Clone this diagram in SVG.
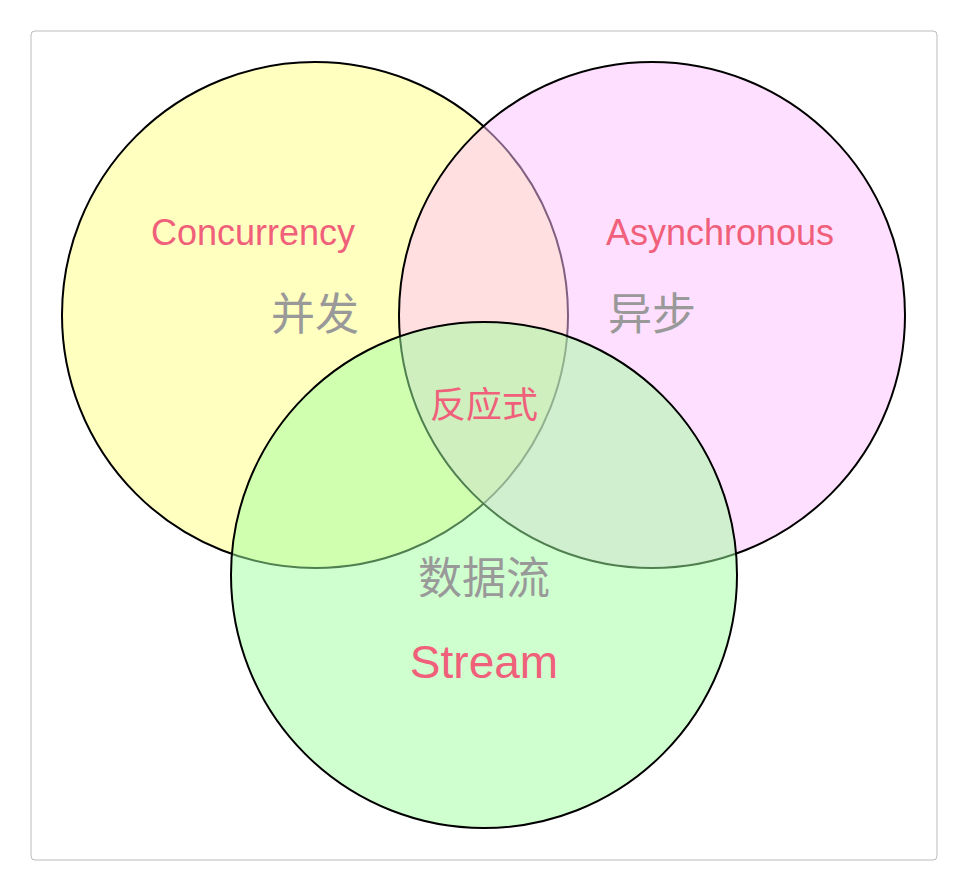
<svg xmlns="http://www.w3.org/2000/svg" width="968" height="891" viewBox="0 0 968 891">
<style>
.c{stroke:#000;stroke-width:2;fill-opacity:0.5}
.en{font-family:"Liberation Sans","Noto Sans CJK SC",sans-serif;fill:#f0607a;text-anchor:middle}
.zh{font-family:"Noto Sans CJK SC",sans-serif;fill:#999;text-anchor:middle;font-size:44px}
</style>
<rect x="31" y="31" width="906" height="829" rx="4" fill="#fff" stroke="#bbb"/>
<g id="concurrency"><circle class="c" cx="315" cy="315" r="253" fill="#ffff80"/></g>
<g id="async"><circle class="c" cx="652" cy="315" r="253" fill="#ffc0ff"/></g>
<g id="stream"><circle class="c" cx="484" cy="575" r="253" fill="#a0ffa0"/></g>
<g id="connectors"></g>
<g id="labels">
<text class="en" x="253" y="245" font-size="36">Concurrency</text>
<text class="zh" x="315" y="330">并发</text>
<text class="en" x="720" y="245" font-size="36">Asynchronous</text>
<text class="zh" x="652" y="330">异步</text>
<text class="en" x="484" y="418" font-size="36" style="font-family:'Noto Sans CJK SC',sans-serif">反应式</text>
<text class="zh" x="484" y="594">数据流</text>
<text class="en" x="484" y="678" font-size="46">Stream</text>
</g>
</svg>
